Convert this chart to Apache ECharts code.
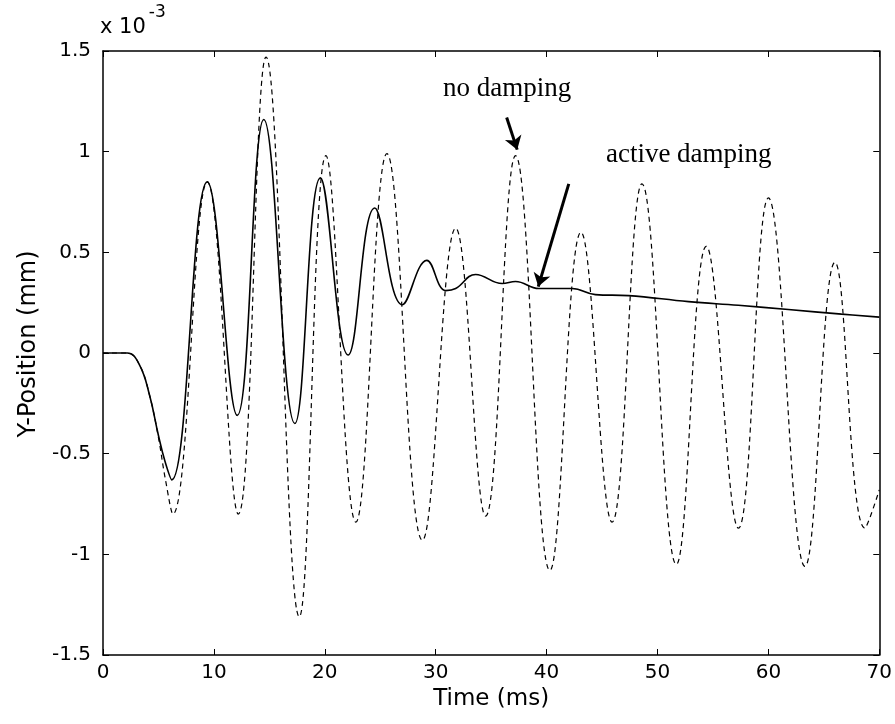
<!DOCTYPE html>
<html>
<head>
<meta charset="utf-8">
<title>Y-Position vs Time</title>
<script src="https://cdn.jsdelivr.net/npm/echarts@6/dist/echarts.min.js"></script>
<style>
  html, body { margin: 0; padding: 0; background: #fff; }
  #chart { width: 895px; height: 724px; }
</style>
</head>
<body>
<div id="chart"></div>
<script>
// Time samples (ms) and Y-position (×10^-3 mm) for the undamped response
const freeT = [0, 2.2, 3.3, 4.2, 5.0, 5.6, 6.3, 9.4, 12.2, 14.7, 17.7, 20.1, 22.8, 25.6, 28.8,
  31.8, 34.5, 37.2, 40.3, 43.1, 45.9, 48.6, 51.7, 54.4, 57.3, 60.0, 63.3, 66.0, 68.7, 70.0];
const freeY = [0, 0, -0.06, -0.21, -0.42, -0.62, -0.80, 0.85, -0.80, 1.47, -1.31, 0.98, -0.84, 0.99, -0.93,
  0.62, -0.81, 0.98, -1.08, 0.60, -0.84, 0.84, -1.05, 0.53, -0.87, 0.77, -1.06, 0.45, -0.87, -0.68];

// Time samples (ms) and Y-position (×10^-3 mm) with active damping
const dampT = [0, 2.2, 3.3, 4.2, 5.0, 5.6, 6.2, 9.4, 12.1, 14.5, 17.3, 19.6, 22.1, 24.5, 27.0,
  29.2, 30.9, 31.8, 33.6, 36.0, 37.2, 39.3, 42.3, 44.4, 47.4, 52.8, 57.3, 61.8, 66.6, 70.0];
const dampY = [0, 0, -0.06, -0.21, -0.41, -0.54, -0.63, 0.85, -0.31, 1.16, -0.35, 0.87, -0.01, 0.72, 0.24,
  0.46, 0.31, 0.32, 0.39, 0.345, 0.355, 0.32, 0.32, 0.29, 0.285, 0.255, 0.237, 0.216, 0.193, 0.178];

// Axis settings
const xTicks = [0, 10, 20, 30, 40, 50, 60, 70];
const yTicks = [-1.5, -1, -0.5, 0, 0.5, 1, 1.5];

// Annotation texts and arrows (data coordinates)
const noteTexts = ['no damping', 'active damping'];
const noteAnchors = [[36.45, 1.31], [45.35, 0.985]];
const arrowStarts = [[36.4, 1.17], [42.0, 0.84]];
const arrowEnds = [[37.35, 1.01], [39.25, 0.33]];

const zip = (a, b) => a.map((v, i) => [v, b[i]]);

const sansFont = '"DejaVu Sans", Verdana, sans-serif';
const serifFont = '"Liberation Serif", "Times New Roman", serif';

const tickAxisCommon = {
  axisLine: { show: true, onZero: false, lineStyle: { color: '#000', width: 1.5 } },
  axisTick: { show: true, inside: true, length: 6, lineStyle: { color: '#000', width: 1 } },
  splitLine: { show: false }
};

const chart = echarts.init(document.getElementById('chart'), null, { renderer: 'canvas' });

chart.setOption({
  animation: false,
  backgroundColor: '#fff',
  grid: { left: 103, right: 13, top: 51, bottom: 69, containLabel: false },
  xAxis: [
    Object.assign({
      type: 'value', position: 'bottom',
      min: xTicks[0], max: xTicks[xTicks.length - 1], interval: 10,
      name: 'Time (ms)', nameLocation: 'middle', nameGap: 33,
      nameTextStyle: { fontFamily: sansFont, fontSize: 23, color: '#000' },
      axisLabel: { fontFamily: sansFont, fontSize: 20, color: '#000', margin: 8 }
    }, tickAxisCommon),
    Object.assign({
      type: 'value', position: 'top',
      min: xTicks[0], max: xTicks[xTicks.length - 1], interval: 10,
      axisLabel: { show: false }
    }, tickAxisCommon)
  ],
  yAxis: [
    Object.assign({
      type: 'value', position: 'left',
      min: yTicks[0], max: yTicks[yTicks.length - 1], interval: 0.5,
      name: 'Y-Position (mm)', nameLocation: 'middle', nameGap: 62,
      nameTextStyle: { fontFamily: sansFont, fontSize: 24, color: '#000', padding: [0, 0, 0, 18] },
      axisLabel: { fontFamily: sansFont, fontSize: 20, color: '#000', margin: 12 }
    }, tickAxisCommon),
    Object.assign({
      type: 'value', position: 'right',
      min: yTicks[0], max: yTicks[yTicks.length - 1], interval: 0.5,
      axisLabel: { show: false }
    }, tickAxisCommon)
  ],
  series: [
    {
      name: 'no damping',
      type: 'line',
      xAxisIndex: 0, yAxisIndex: 0,
      data: zip(freeT, freeY),
      smooth: 0.42,
      showSymbol: false,
      lineStyle: { color: '#000', width: 1.2, type: [5, 4] },
      markLine: {
        silent: true,
        symbol: ['none', 'arrow'],
        symbolSize: 13,
        lineStyle: { color: '#000', width: 3, type: 'solid' },
        label: { show: false },
        data: arrowStarts.map((s, i) => [{ coord: s }, { coord: arrowEnds[i] }])
      },
      markPoint: {
        silent: true,
        symbol: 'circle',
        symbolSize: 0,
        data: noteTexts.map((t, i) => ({
          coord: noteAnchors[i],
          value: t,
          label: {
            show: true,
            formatter: t,
            position: i === 0 ? 'inside' : 'right',
            distance: 0,
            fontFamily: serifFont,
            fontSize: 27,
            color: '#000'
          }
        }))
      }
    },
    {
      name: 'active damping',
      type: 'line',
      xAxisIndex: 0, yAxisIndex: 0,
      data: zip(dampT, dampY),
      smooth: 0.42,
      showSymbol: false,
      lineStyle: { color: '#000', width: 1.6, type: 'solid' }
    }
  ],
  graphic: [
    {
      type: 'text',
      left: 100,
      top: 4,
      style: {
        rich: {
          b: { fontFamily: sansFont, fontSize: 21, color: '#000', verticalAlign: 'bottom', padding: [16, 0, 0, 0] },
          s: { fontFamily: sansFont, fontSize: 17, color: '#000', verticalAlign: 'top', padding: [3, 0, 0, 3] }
        },
        text: '{b|x 10}{s|-3}'
      }
    }
  ]
});
</script>
</body>
</html>
